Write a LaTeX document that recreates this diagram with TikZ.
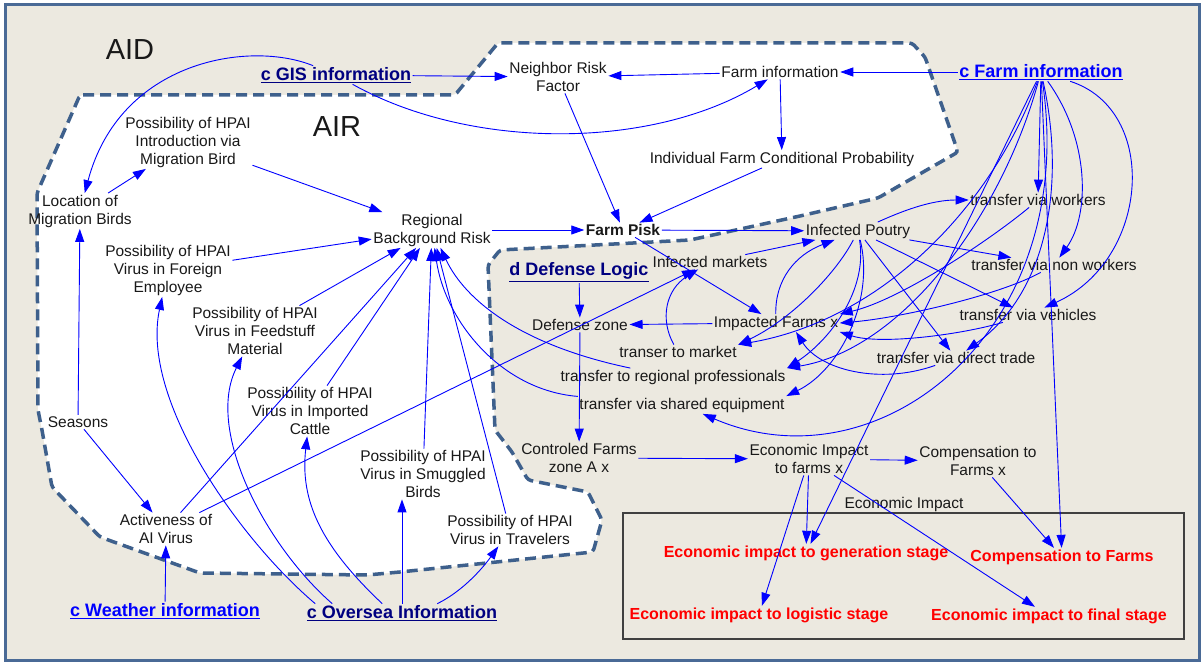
\documentclass[tikz,border=0pt]{standalone}
\usepackage{fontspec}
\setmainfont{Liberation Sans}
\usepackage{xcolor}
\usetikzlibrary{arrows.meta}

\definecolor{navy}{RGB}{0,0,128}
\definecolor{framecol}{RGB}{74,106,150}
\definecolor{zonecol}{RGB}{62,96,140}
\definecolor{paper}{RGB}{236,233,224}

\begin{document}
\begin{tikzpicture}[x=1pt,y=-1pt,
  var/.style={align=center, inner sep=1.5pt, text=black!90, font=\fontsize{15.5}{18}\selectfont},
  shadowvar/.style={inner sep=1.5pt, font=\bfseries\fontsize{18}{20}\selectfont},
  stagevar/.style={inner sep=1.5pt, text=red, font=\bfseries\fontsize{16}{19}\selectfont},
  link/.style={draw=blue, line width=0.9pt, -{Triangle[length=13pt,width=9pt]}}]
\useasboundingbox (0,0) rectangle (1203,663);
\fill[white] (0,0) rectangle (1203,663);
\draw[draw=framecol, line width=3pt, fill=paper] (5,5) rectangle (1199,660);
\draw[fill=white, draw=zonecol, line width=3.5pt, dash pattern=on 11pt off 6pt, rounded corners=3pt]
  (80,95) -- (455,95) -- (498,43) -- (912,43) -- (925,57) -- (958,152) -- (878,198) -- (800,216)
  -- (690,240) -- (500,250) -- (488,265) -- (495,430) -- (512,452) -- (528,480) -- (588,492)
  -- (602,520) -- (593,552) -- (400,572) -- (367,575) -- (200,573) -- (100,537) -- (52,487)
  -- (42,430) -- (38,410) -- (37,193) -- cycle;
\draw[draw=black!75, line width=1.2pt] (623,513) rectangle (1184,639);

\node[var, font=\fontsize{29}{32}\selectfont] (aid) at (130,50) {AID};
\node[var, font=\fontsize{29}{32}\selectfont] (air) at (337,127) {AIR};

\node[shadowvar, text=navy] (gis) at (336,75) {\underline{c GIS information}};
\node[shadowvar, text=blue] (cfarm) at (1041,72) {\underline{c Farm information}};
\node[shadowvar, text=blue] (cweather) at (165,611) {\underline{c Weather information}};
\node[shadowvar, text=navy] (coversea) at (402,613) {\underline{c Oversea Information}};
\node[shadowvar, text=navy] (dlogic) at (579,272) {\underline{d Defense Logic}};

\node[var] (nrf) at (558,77) {Neighbor Risk\\Factor};
\node[var] (finfo) at (780,72) {Farm information};
\node[var] (ifcp) at (782,159) {Individual Farm Conditional Probability};
\node[var] (pmig) at (188,142) {Possibility of HPAI\\Introduction via\\Migration Bird};
\node[var] (locmb) at (80,211) {Location of\\Migration Birds};
\node[var] (rbr) at (432,230) {Regional\\Background Risk};
\node[var, font=\bfseries\fontsize{15.5}{18}\selectfont] (fpisk) at (623,230) {Farm Pisk};
\node[var] (ipoul) at (858,231) {Infected Poutry};
\node[var] (tworker) at (1038,200) {transfer via workers};
\node[var] (tnonw) at (1054,265) {transfer via non workers};
\node[var] (tveh) at (1028,315) {transfer via vehicles};
\node[var] (tdirect) at (956,358) {transfer via direct trade};
\node[var] (pemp) at (168,270) {Possibility of HPAI\\Virus in Foreign\\Employee};
\node[var] (pfeed) at (255,331) {Possibility of HPAI\\Virus in Feedstuff\\Material};
\node[var] (pcattle) at (310,411) {Possibility of HPAI\\Virus in Imported\\Cattle};
\node[var] (seasons) at (78,422) {Seasons};
\node[var] (psmug) at (423,474) {Possibility of HPAI\\Virus in Smuggled\\Birds};
\node[var] (ptrav) at (510,530) {Possibility of HPAI\\Virus in Travelers};
\node[var] (activ) at (166,529) {Activeness of\\AI Virus};
\node[var] (imark) at (710,262) {Infected markets};
\node[var] (dzone) at (580,325) {Defense zone};
\node[var] (ifarms) at (776,323) {Impacted Farms x};
\node[var] (tmarket) at (678,352) {transer to market};
\node[var] (tregion) at (673,377) {transfer to regional professionals};
\node[var] (tshared) at (682,405) {transfer via shared equipment};
\node[var] (cfarms) at (579,458) {Controled Farms\\zone A x};
\node[var] (econ) at (809,459) {Economic Impact\\to farms x};
\node[var] (compx) at (978,461) {Compensation to\\Farms x};
\node[var] (econlbl) at (904,504) {Economic Impact};

\node[stagevar] (egen) at (806,553) {Economic impact to generation stage};
\node[stagevar] (ecomp) at (1062,557) {Compensation to Farms};
\node[stagevar] (elog) at (759,615) {Economic impact to logistic stage};
\node[stagevar] (efinal) at (1049,616) {Economic impact to final stage};

% risk of introduction
\draw[link] (gis) .. controls (250,40) and (120,60) .. (locmb);
\draw[link] (gis) -- (nrf);
\draw[link] (gis) .. controls (470,150) and (650,150) .. (finfo);
\draw[link] (finfo) -- (nrf);
\draw[link] (cfarm) -- (finfo);
\draw[link] (finfo) -- (ifcp);
\draw[link] (nrf) -- (fpisk);
\draw[link] (ifcp) -- (fpisk);
\draw[link] (rbr) -- (fpisk);
\draw[link] (fpisk) -- (ipoul);
\draw[link] (locmb) -- (pmig);
\draw[link] (pmig) -- (rbr);
\draw[link] (seasons) -- (locmb);
\draw[link] (seasons) -- (activ);
\draw[link] (pemp) -- (rbr);
\draw[link] (pfeed) -- (rbr);
\draw[link] (pcattle) -- (rbr);
\draw[link] (activ) -- (rbr);
\draw[link] (psmug) -- (rbr);
\draw[link] (ptrav) -- (rbr);
\draw[link] (tregion) .. controls (520,345) and (465,300) .. (rbr);
\draw[link] (tshared) .. controls (500,390) and (445,320) .. (rbr);
\draw[link] ([xshift=10pt]coversea.north west) .. controls (240,540) and (140,400) .. (pemp);
\draw[link] ([xshift=27pt]coversea.north west) .. controls (265,545) and (205,430) .. (pfeed);
\draw[link] ([xshift=77pt]coversea.north west) .. controls (320,545) and (300,500) .. (pcattle);
\draw[link] (coversea.north) -- (coversea.north |- psmug.south);
\draw[link] ([xshift=132pt]coversea.north west) .. controls (465,590) and (485,565) .. (ptrav);
\draw[link] (cweather) -- (activ);
\draw[link] (activ) -- (imark);

% defense logic
\draw[link] (dlogic) -- (dzone);
\draw[link] (dzone) -- (cfarms);
\draw[link] (ifarms) -- (dzone);
\draw[link] (tmarket) .. controls (660,320) and (665,290) .. (imark);
\draw[link] (fpisk) -- (ifarms);
\draw[link] (imark) -- (ipoul);
\draw[link] (ifarms) .. controls (775,280) and (795,255) .. (ipoul);
\draw[link] (ipoul) .. controls (900,212) and (930,200) .. (tworker);
\draw[link] (ipoul) -- (tnonw);
\draw[link] (ipoul) -- (tveh);
\draw[link] (ipoul) -- (tdirect);
\draw[link] (ipoul) .. controls (835,275) and (790,320) .. (tmarket.north east);
\draw[link] (ipoul) .. controls (868,290) and (830,340) .. (tregion.north east);
\draw[link] (ipoul) .. controls (875,300) and (840,370) .. (tshared.north east);
\draw[link] (tworker) .. controls (990,240) and (900,300) .. (ifarms.north east);
\draw[link] (tnonw) .. controls (1000,295) and (900,318) .. (ifarms.east);
\draw[link] (tveh) .. controls (960,335) and (880,345) .. (ifarms.south east);
\draw[link] (tdirect) .. controls (880,385) and (820,370) .. ([xshift=20pt]ifarms.south);
\draw[link] (cfarm) -- (tworker);
\draw[link] (cfarm) .. controls (1090,140) and (1090,215) .. (tnonw);
\draw[link] (cfarm) .. controls (1160,110) and (1150,260) .. (tveh);
\draw[link] (cfarm) .. controls (1065,180) and (1050,290) .. (tdirect);
\draw[link] (cfarm) .. controls (1080,330) and (880,490) .. (tshared);
\draw[link] (cfarm) .. controls (990,210) and (880,320) .. (tmarket.north east);
\draw[link] (cfarm) .. controls (1000,220) and (900,350) .. (tregion.north east);

% economic impact
\draw[link] (cfarms) -- (econ);
\draw[link] (econ) -- (compx);
\draw[link] (econ) -- (egen);
\draw[link] (econ) -- (elog);
\draw[link] (econ) -- (efinal);
\draw[link] (compx) -- (ecomp);
\draw[link] (cfarm) -- (ecomp);
\draw[link] (cfarm) -- (egen);
\end{tikzpicture}
\end{document}
